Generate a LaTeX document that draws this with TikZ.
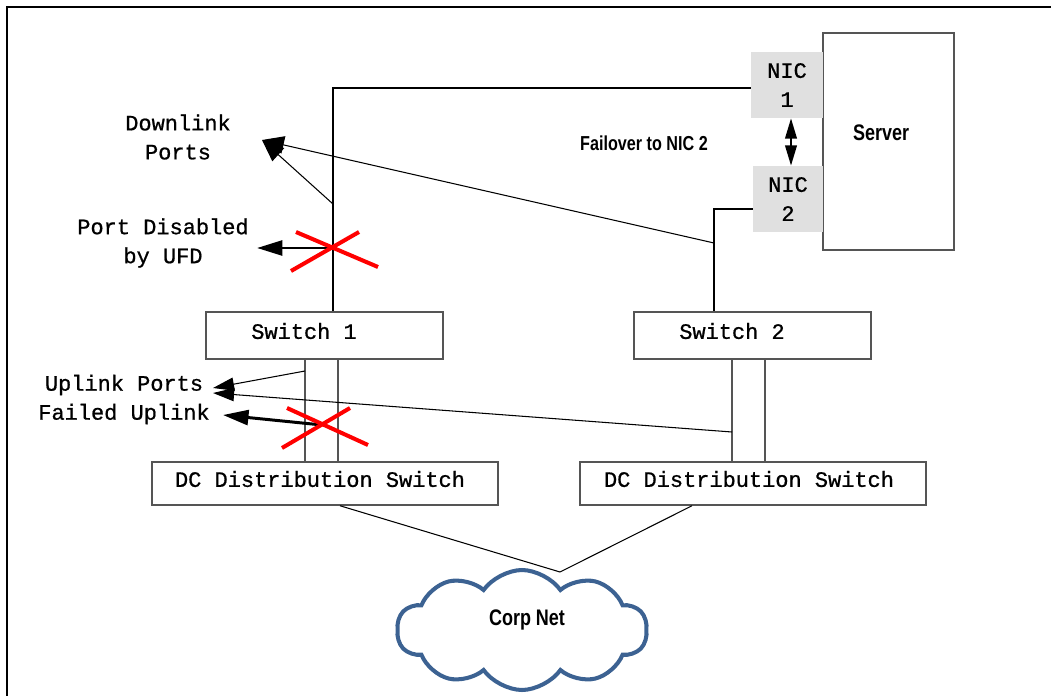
\documentclass[tikz,border=0pt]{standalone}
\usepackage{fontspec}
\setmonofont[FakeBold=0.8]{Liberation Mono}
\newfontfamily\condfont[FakeStretch=0.8]{Liberation Sans}
\usetikzlibrary{arrows.meta,shapes.symbols}
\definecolor{nicgray}{HTML}{E0E0E0}
\definecolor{boxgray}{HTML}{555555}
\definecolor{cloudblue}{HTML}{3C6292}
\tikzset{
  box/.style={draw=boxgray, line width=0.85pt, fill=white, inner sep=0pt},
  nic/.style={fill=nicgray, inner sep=0pt, align=center, minimum height=1.32cm},
  mono/.style={font=\fontsize{12.5}{16.5}\selectfont\ttfamily, inner sep=0pt, align=center},
  bold/.style={font=\condfont\bfseries\fontsize{12.8}{15}\selectfont, inner sep=0pt},
  link/.style={line width=0.6pt},
  uplink/.style={draw=boxgray, line width=0.85pt},
  cross/.style={red, line width=2.3pt},
  pointer/.style={line width=0.6pt, -{Triangle[length=12pt,width=7.5pt]}},
  failarrow/.style={line width=1.7pt, -{Triangle[length=14.5pt,width=8.5pt]}}
}
\begin{document}
\begin{tikzpicture}[x=0.02cm, y=-0.02cm]
        \useasboundingbox (0,0) rectangle (1051,696);
        \draw[line width=1.6pt] (7,696) -- (7,7) -- (1051,7);

        \node[box, minimum width=2.62cm, minimum height=4.34cm] (server) at (888.5,141.5) {};
        \node[bold] (server-txt) at (881,133) {Server};
        \node[nic, mono, minimum width=1.44cm] (nic1) at (787,85) {NIC\\1};
        \node[nic, mono, minimum width=1.40cm] (nic2) at (788,199) {NIC\\2};
        \node[bold, font=\condfont\bfseries\fontsize{11.5}{13}\selectfont] (failover) at (644,143) {Failover to NIC 2};

        \node[box, minimum width=4.74cm, minimum height=0.94cm] (sw1) at (324.5,335.5) {};
        \node[mono] (sw1-txt) at (304,331) {Switch 1};
        \node[box, minimum width=4.74cm, minimum height=0.94cm] (sw2) at (752.5,335.5) {};
        \node[mono] (sw2-txt) at (732,331) {Switch 2};
        \node[box, minimum width=6.92cm, minimum height=0.86cm] (dc1) at (325,483.5) {};
        \node[mono] (dc1-txt) at (320,479) {DC Distribution Switch};
        \node[box, minimum width=6.92cm, minimum height=0.86cm] (dc2) at (753,483.5) {};
        \node[mono] (dc2-txt) at (749,479) {DC Distribution Switch};

        \node[cloud, cloud puffs=10, cloud puff arc=110, cloud ignores aspect, draw=cloudblue, line width=2.3pt,
              minimum width=5.0cm, minimum height=2.4cm, inner sep=0pt] (net) at (522,630) {};
        \node[bold] (net-txt) at (527,620) {Corp Net};

        \node[mono] (dl-txt) at (178,137) {Downlink\\Ports};
        \node[mono] (ufd-txt) at (163,243) {Port Disabled\\by UFD};
        \node[mono] (up-txt) at (124,385) {Uplink Ports};
        \node[mono] (fail-txt) at (124,414) {Failed Uplink};

        \coordinate (c1) at (333,88);
        \coordinate (c2) at (714,209);
        \coordinate (tap1) at (333,204);
        \coordinate (ufd) at (333,248);
        \coordinate (tap2) at (714,243);
        \coordinate (dl-tip) at (262,140);
        \coordinate (ufd-tip) at (257,248);
        \coordinate (u1) at (305,0);
        \coordinate (u2) at (338,0);
        \coordinate (u3) at (732,0);
        \coordinate (u4) at (765,0);
        \coordinate (up1) at (305,371);
        \coordinate (up2) at (732,432);
        \coordinate (up-tip1) at (213,388);
        \coordinate (up-tip2) at (213,393);
        \coordinate (fail) at (322,425);
        \coordinate (fail-tip) at (223,415);
        \coordinate (net-top) at (560,572);

        \draw[link] (nic1.west |- c1) -- (c1) -- (sw1.north -| c1);
        \draw[link] (nic2.west |- c2) -- (c2) -- (sw2.north -| c2);
        \draw[line width=1.1pt, {Triangle[length=11.5pt,width=6.6pt]}-{Triangle[length=11.5pt,width=6.6pt]}] (nic1.south -| 791,0) -- (nic2.north -| 791,0);

        \draw[uplink] (sw1.south -| u1) -- (dc1.north -| u1);
        \draw[uplink] (sw1.south -| u2) -- (dc1.north -| u2);
        \draw[uplink] (sw2.south -| u3) -- (dc2.north -| u3);
        \draw[uplink] (sw2.south -| u4) -- (dc2.north -| u4);

        \draw[link] (dc1.south -| 340,0) -- (net-top);
        \draw[link] (dc2.south -| 692,0) -- (net-top);

        \draw[pointer, -{Triangle[length=12.5pt,width=10pt]}] (tap1) -- (dl-tip);
        \draw[pointer, -{Triangle[length=12.5pt,width=10pt]}] (tap2) -- (dl-tip);
        \draw[pointer] (up1) -- (up-tip1);
        \draw[pointer] (up2) -- (up-tip2);
        \draw[failarrow] (ufd) -- (ufd-tip);
        \draw[failarrow] (fail) -- (fail-tip);

        \draw[cross] (291,271) -- (359,232);
        \draw[cross] (296,232) -- (378,267);
        \draw[cross] (282,448) -- (350,408);
        \draw[cross] (287,408) -- (368,445);
    \end{tikzpicture}
\end{document}
